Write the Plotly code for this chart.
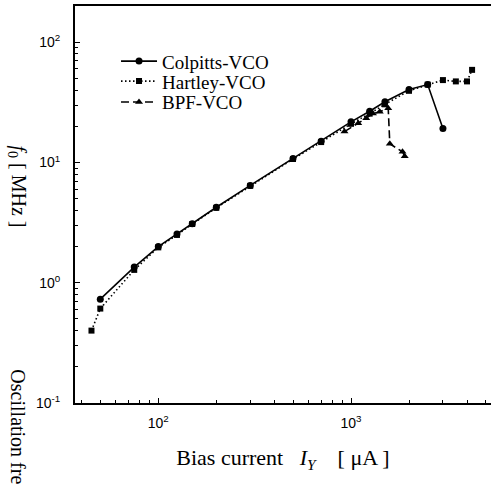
import plotly.graph_objects as go

# Data
colpitts_x = [50, 75, 100, 125, 150, 200, 300, 500, 700, 1000, 1250, 1500, 2000, 2500, 3000]
colpitts_y = [0.73, 1.35, 2.0, 2.55, 3.1, 4.25, 6.45, 10.8, 15.0, 21.8, 26.7, 32.0, 40.5, 44.5, 19.2]

hartley_x = [45, 50, 75, 100, 125, 150, 200, 300, 500, 700, 1000, 1250, 1500, 2000, 2500, 3000, 3500, 4000, 4250]
hartley_y = [0.40, 0.61, 1.28, 1.97, 2.5, 3.08, 4.2, 6.4, 10.7, 14.8, 21.0, 25.5, 30.5, 39.5, 44.5, 48.5, 47.3, 47.3, 59.0]

bpf_x = [925, 1090, 1200, 1300, 1410, 1560, 1590, 1850, 1900]
bpf_y = [18.1, 21.2, 23.4, 25.6, 26.4, 28.3, 14.3, 12.3, 11.3]

x_tickvals = [100, 1000]
x_ticktext = ["10<sup>2</sup>", "10<sup>3</sup>"]
y_tickvals = [0.1, 1, 10, 100]
y_ticktext = ["10<sup>-1</sup>", "10<sup>0</sup>", "10<sup>1</sup>", "10<sup>2</sup>"]

x_minor = [40, 50, 60, 70, 80, 90, 200, 300, 400, 500, 600, 700, 800, 900,
           2000, 3000, 4000, 5000]
y_minor = [0.2, 0.3, 0.4, 0.5, 0.6, 0.7, 0.8, 0.9, 2, 3, 4, 5, 6, 7, 8, 9,
           20, 30, 40, 50, 60, 70, 80, 90]

serif = "Liberation Serif, Times New Roman, serif"
sans = "Liberation Sans, Arial, sans-serif"

fig = go.Figure()
fig.add_trace(go.Scatter(
    x=colpitts_x, y=colpitts_y, name="Colpitts-VCO", mode="lines+markers",
    legend="legend",
    line=dict(color="black", width=1.6, dash="solid"),
    marker=dict(symbol="circle", size=7, color="black")))
fig.add_trace(go.Scatter(
    x=hartley_x, y=hartley_y, name="Hartley-VCO", mode="lines+markers",
    legend="legend2",
    line=dict(color="black", width=1.6, dash="1.5px,2.5px"),
    marker=dict(symbol="square", size=6, color="black")))
fig.add_trace(go.Scatter(
    x=bpf_x, y=bpf_y, name="BPF-VCO", mode="lines+markers",
    legend="legend3",
    line=dict(color="black", width=1.6, dash="8px,4px"),
    marker=dict(symbol="triangle-up", size=7, color="black")))

leg_common = dict(x=0.0986, xanchor="left", yanchor="middle",
                  font=dict(family=serif, size=19, color="black"),
                  bgcolor="rgba(0,0,0,0)", borderwidth=0, itemwidth=36)

fig.update_layout(
    width=491, height=484,
    margin=dict(l=75, r=0, t=6, b=81),
    paper_bgcolor="white", plot_bgcolor="white",
    showlegend=True,
    legend=dict(y=0.8608, **leg_common),
    legend2=dict(y=0.8105, **leg_common),
    legend3=dict(y=0.7577, **leg_common),
    xaxis=dict(
        type="log", range=[1.5677, 3.7265],
        showgrid=False, zeroline=False,
        showline=True, linecolor="black", linewidth=2, mirror=True,
        ticks="inside", ticklen=5, tickwidth=1.2, tickcolor="black",
        tickmode="array", tickvals=x_tickvals, ticktext=x_ticktext,
        tickfont=dict(family=sans, size=14, color="black"),
        ticklabelstandoff=6,
        minor=dict(tickmode="array", tickvals=x_minor, ticks="inside",
                   ticklen=3, tickwidth=1.2, tickcolor="black", showgrid=False),
        title=dict(text="Bias current\u00a0\u00a0\u00a0<i>I</i><sub><i>Y</i></sub>\u00a0\u00a0\u00a0\u00a0[ μA ]",
                   font=dict(family=serif, size=22, color="black"), standoff=20),
    ),
    yaxis=dict(
        type="log", range=[-1, 2.302],
        showgrid=False, zeroline=False,
        showline=True, linecolor="black", linewidth=2, mirror=False,
        ticks="inside", ticklen=5, tickwidth=1.2, tickcolor="black",
        tickmode="array", tickvals=y_tickvals, ticktext=y_ticktext,
        tickfont=dict(family=sans, size=14, color="black"),
        ticklabelstandoff=10,
        minor=dict(tickmode="array", tickvals=y_minor, ticks="inside",
                   ticklen=3, tickwidth=1.2, tickcolor="black", showgrid=False),
    ),
)

fig.add_annotation(
    xref="paper", yref="paper", x=-0.139, y=0.545,
    text="<i>f</i><sub>0</sub>\u00a0[ MHz ]", textangle=90, showarrow=False,
    xanchor="center", yanchor="middle",
    font=dict(family=serif, size=20, color="black"))
fig.add_annotation(
    xref="paper", yref="paper", x=-0.139, y=0.0906,
    text="Oscillation frequency", textangle=90, showarrow=False,
    xanchor="center", yanchor="top",
    font=dict(family=serif, size=20, color="black"))

fig.write_html("out.html", config={"displayModeBar": False},
               post_script="document.body.style.margin='0';document.body.style.padding='0';")
